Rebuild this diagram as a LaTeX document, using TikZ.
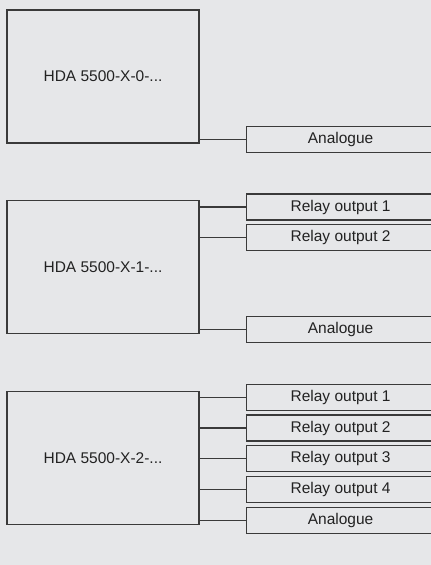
\documentclass[tikz,border=0pt]{standalone}
\usepackage{fontspec}
\setmainfont{Liberation Sans}
\usetikzlibrary{positioning, calc}
\definecolor{bggray}{HTML}{E6E7E9}
\definecolor{linegray}{HTML}{3A3A3A}
\definecolor{textgray}{HTML}{222222}
\tikzset{
  unitbox/.style={draw=linegray, line width=1.2pt, inner sep=0pt,
    minimum width=192pt, minimum height=133pt,
    font=\fontsize{15.5}{18}\selectfont, text=textgray},
  outbox/.style={draw=linegray, line width=1.2pt, inner sep=0pt, anchor=west,
    minimum width=188pt, minimum height=26pt,
    font=\fontsize{15.5}{18}\selectfont, text=textgray},
  wire/.style={draw=linegray, line width=1.2pt},
}

\begin{document}
\begin{tikzpicture}[x=1pt, y=-1pt]

    \fill[bggray] (0,0) rectangle (431,565);
    \useasboundingbox (0,0) rectangle (431,565);

    \pgfmathsetmacro{\xout}{246}
    \pgfmathsetmacro{\dy}{30.8}

    % variant 0: analogue only
    \node[unitbox] (u0) at (103, 76.5) {HDA 5500-X-0-...};
    \node[outbox] (a0) at (\xout, 139.7) {Analogue};
    \draw[wire] (u0.east |- a0.west) -- (a0.west);

    % variant 1: two relays
    \node[unitbox] (u1) at (103, 267.3) {HDA 5500-X-1-...};
    \foreach \i in {1,2} {
      \node[outbox] (r1\i) at ({\xout}, {207+\dy*(\i-1)}) {Relay output \i};
      \draw[wire] (u1.east |- r1\i.west) -- (r1\i.west);
    }
    \node[outbox] (a1) at (\xout, 329.7) {Analogue};
    \draw[wire] (u1.east |- a1.west) -- (a1.west);

    % variant 2: four relays
    \node[unitbox] (u2) at (103, 457.7) {HDA 5500-X-2-...};
    \foreach \i in {1,...,4} {
      \node[outbox] (r2\i) at ({\xout}, {397.2+\dy*(\i-1)}) {Relay output \i};
      \draw[wire] (u2.east |- r2\i.west) -- (r2\i.west);
    }
    \node[outbox] (a2) at (\xout, 520.5) {Analogue};
    \draw[wire] (u2.east |- a2.west) -- (a2.west);

\end{tikzpicture}
\end{document}
